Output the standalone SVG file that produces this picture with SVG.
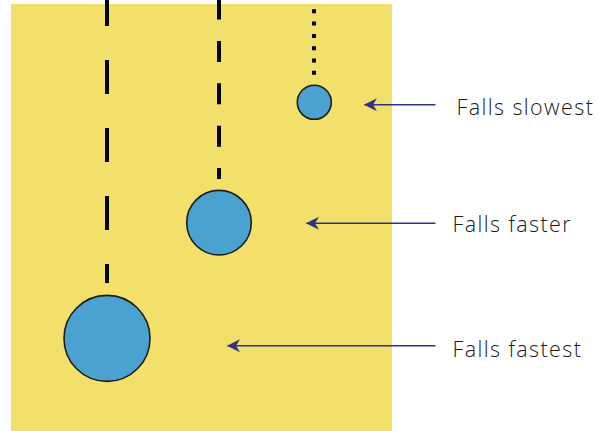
<svg xmlns="http://www.w3.org/2000/svg" width="599" height="431" viewBox="0 0 599 431">
  <defs>
    <style>
      .trail { stroke: #000; stroke-width: 4; fill: none; }
      .ball { fill: #4BA1CF; stroke: #1d1d1b; stroke-width: 1.6; }
      .pointer { stroke: #2E3384; stroke-width: 1.6; fill: none; }
      .label { font-family: "Open Sans", "Liberation Sans", sans-serif; font-size: 21.5px; font-weight: 350; letter-spacing: 1.4px; fill: #1a1a1a; }
    </style>
    <marker id="barb" viewBox="0 0 14 14" refX="12.5" refY="7" markerWidth="14" markerHeight="14" markerUnits="userSpaceOnUse" orient="auto">
      <path d="M13,7 L0,0.5 L4,7 L0,13.5 Z" fill="#2E3384"/>
    </marker>
  </defs>

  <rect x="11" y="4" width="381" height="427" fill="#F2E06B"/>

  <g id="connectors">
    <line class="trail" x1="107" y1="-8" x2="107" y2="283" stroke-dasharray="34 34"/>
    <line class="trail" x1="219" y1="-1.5" x2="219" y2="179" stroke-dasharray="21 21.4"/>
    <line class="trail" x1="314" y1="9.3" x2="314" y2="75" stroke-dasharray="4 8.3"/>
    <line class="pointer" x1="435.5" y1="104.7" x2="364.5" y2="104.7" marker-end="url(#barb)"/>
    <line class="pointer" x1="435.5" y1="223.3" x2="306.5" y2="223.3" marker-end="url(#barb)"/>
    <line class="pointer" x1="435.5" y1="345.7" x2="227.5" y2="345.7" marker-end="url(#barb)"/>
  </g>

  <g id="ball-small">
    <circle class="ball" cx="314.3" cy="102.3" r="17"/>
  </g>
  <g id="ball-medium">
    <circle class="ball" cx="219" cy="222.7" r="32.3"/>
  </g>
  <g id="ball-large">
    <circle class="ball" cx="107" cy="338.4" r="43"/>
  </g>

  <g id="label-slowest">
    <text class="label" x="456.5" y="115">Falls slowest</text>
  </g>
  <g id="label-faster">
    <text class="label" x="452.5" y="231.7">Falls faster</text>
  </g>
  <g id="label-fastest">
    <text class="label" x="452.5" y="356.7">Falls fastest</text>
  </g>
</svg>
